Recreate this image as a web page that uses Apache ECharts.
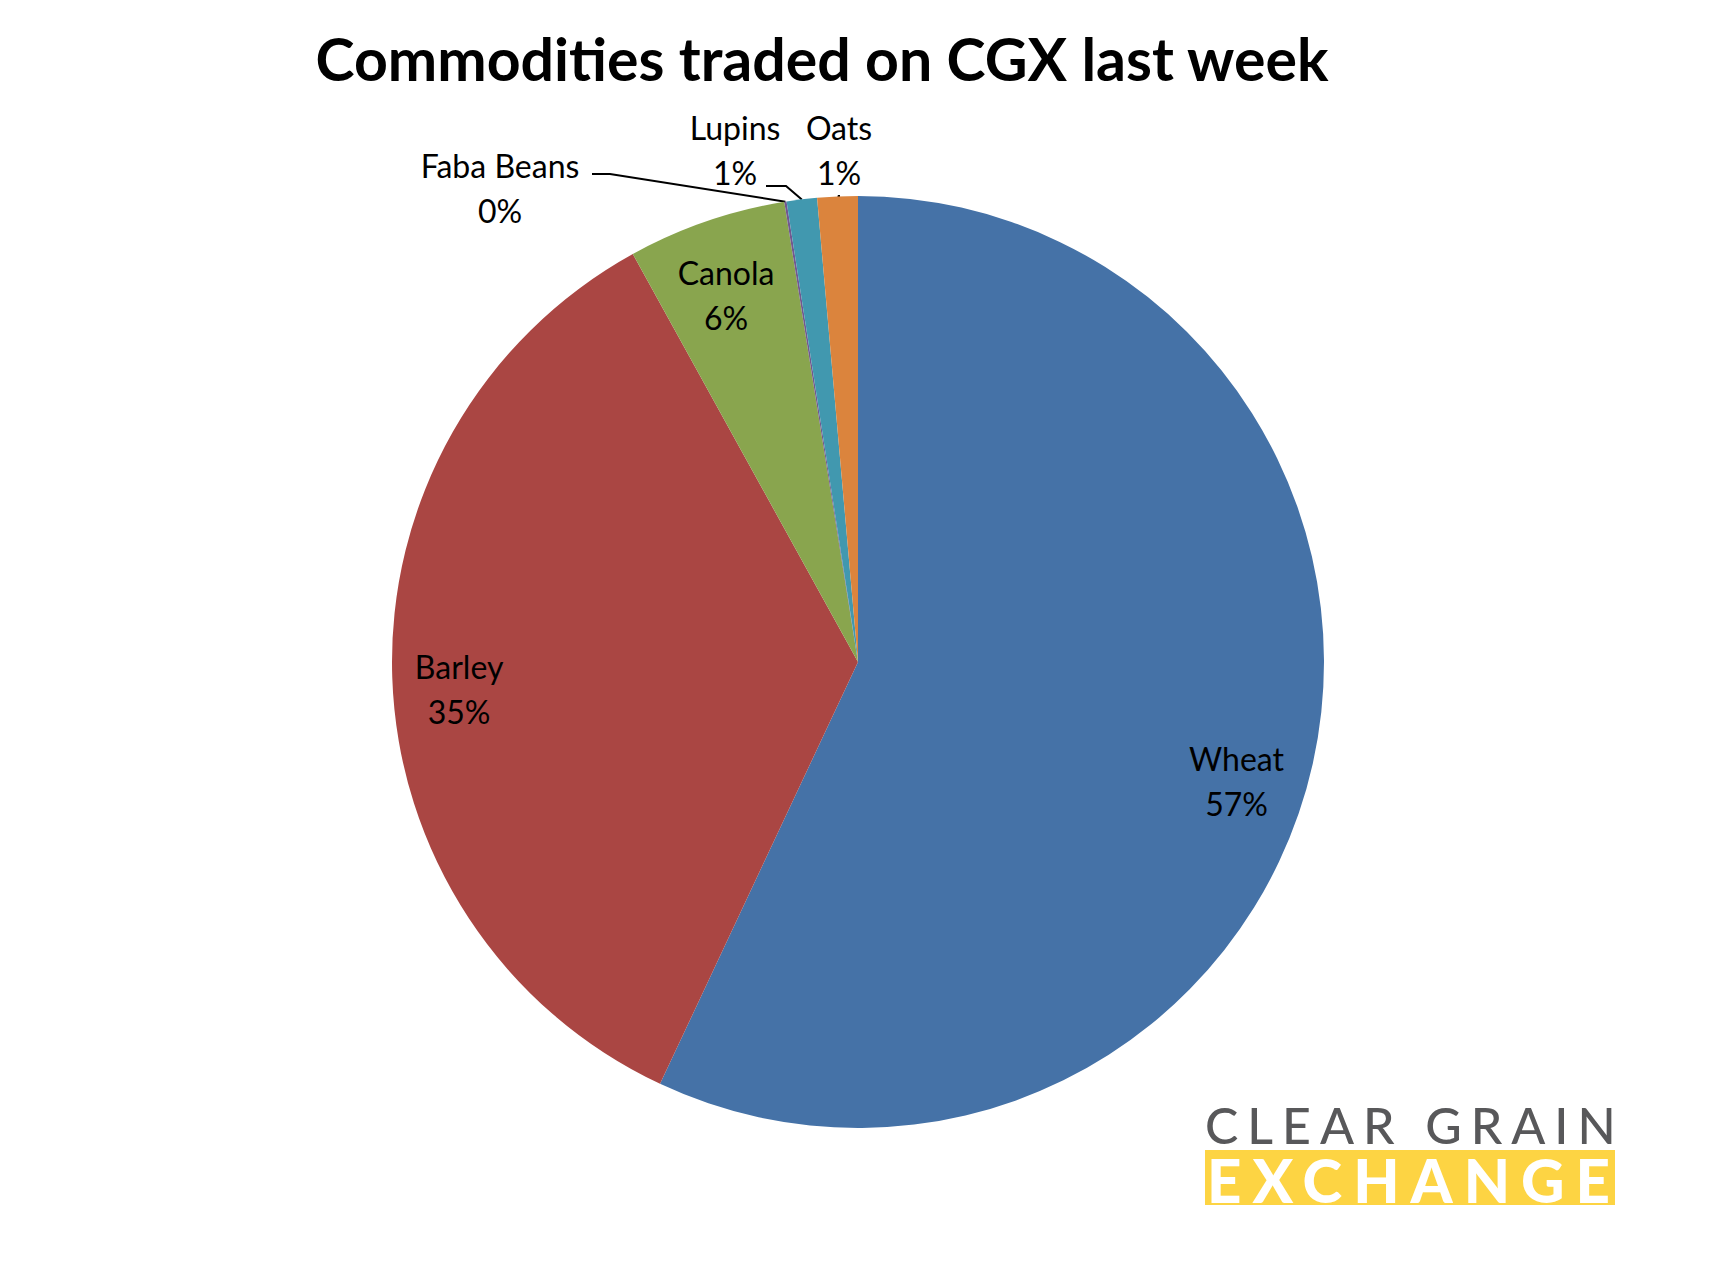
<!DOCTYPE html>
<html>
<head>
<meta charset="utf-8">
<script src="https://cdn.jsdelivr.net/npm/echarts@6/dist/echarts.min.js"></script>
<style>html,body{margin:0;padding:0;background:#fff}#c{width:1716px;height:1288px}</style>
</head>
<body>
<div id="c"></div>
<script>
// ---- data ----
const categories = ['Wheat', 'Barley', 'Canola', 'Faba Beans', 'Lupins', 'Oats'];
const values = [57.0, 35.0, 5.5, 0.08, 1.05, 1.4];
const colors = ['#4572A7', '#AA4643', '#89A54E', '#71588F', '#4198AF', '#DB843D'];
const insideLabel = [true, true, true, false, false, false];
const titleText = 'Commodities traded on CGX last week';

// ---- layout (not data) ----
const CX = 858, CY = 662, R = 466;
const outsideLabelPos = { 3: [500, 188], 4: [735, 150], 5: [839, 150] };
// leader-line start offset from label centre [dx, dy, elbow length]
const leaderGeom = { 3: [92, -14, 18], 4: [31, 36, 20] };
const insideLabelShift = { 0: [-11, 32], 1: [0, 14], 2: [-2, 10] };
const FONT = 'Lato, "Open Sans", sans-serif';

const chart = echarts.init(document.getElementById('c'), null, { renderer: 'svg' });

const mainData = categories.map((n, i) => ({
  name: n, value: values[i],
  itemStyle: { color: colors[i] },
  label: { show: !insideLabel[i] },
  labelLine: { show: !insideLabel[i] }
}));
const overlayData = categories.map((n, i) => ({
  name: n, value: values[i],
  itemStyle: { color: 'rgba(0,0,0,0)' },
  label: { show: insideLabel[i] }
}));

const labelStyle = {
  formatter: '{b}\n{d}%',
  fontFamily: FONT, fontSize: 32, lineHeight: 45, color: '#000', align: 'center'
};

chart.setOption({
  animation: false,
  backgroundColor: '#fff',
  title: {
    text: titleText, left: 822, top: 29, textAlign: 'center', padding: 0,
    textStyle: { fontFamily: FONT, fontWeight: 'bold', fontSize: 59, color: '#000' }
  },
  series: [
    {
      type: 'pie', center: [CX, CY], radius: R, startAngle: 90, clockwise: true,
      percentPrecision: 0, avoidLabelOverlap: false, minShowLabelAngle: 0,
      silent: true,
      data: mainData,
      label: Object.assign({ position: 'outside' }, labelStyle),
      labelLine: { length: 20, length2: 20, lineStyle: { color: '#000', width: 2 } },
      labelLayout: function (p) {
        const pos = outsideLabelPos[p.dataIndex];
        if (!pos) return {};
        const res = { x: pos[0], y: pos[1], align: 'center', verticalAlign: 'middle' };
        const g = leaderGeom[p.dataIndex];
        if (g && p.labelLinePoints) {
          const p0 = p.labelLinePoints[0];
          const sx = pos[0] + g[0], sy = pos[1] + g[1];
          res.labelLinePoints = [[p0[0], p0[1]], [sx + g[2], sy], [sx, sy]];
        }
        return res;
      }
    },
    {
      type: 'pie', center: [CX, CY], radius: [R * 0.7, R], startAngle: 90, clockwise: true,
      percentPrecision: 0, silent: true, avoidLabelOverlap: false, minShowLabelAngle: 0,
      data: overlayData,
      label: Object.assign({ position: 'inside' }, labelStyle),
      labelLine: { show: false },
      labelLayout: function (p) {
        const s = insideLabelShift[p.dataIndex];
        if (!s) return {};
        return { dx: s[0], dy: s[1] };
      }
    }
  ],
  graphic: [
    { type: 'text', left: 1205, top: 1100, style: { text: 'CLEAR GRAIN', fill: '#58585A', font: '500 50px ' + FONT, lineHeight: 40 } },
    { type: 'rect', shape: { x: 1205, y: 1150, width: 410, height: 55 }, style: { fill: '#FDD443' } },
    { type: 'text', left: 1207, top: 1150, style: { text: 'EXCHANGE', fill: '#fff', font: '900 60px ' + FONT, lineHeight: 46 } }
  ]
});

// widen letter spacing of the logo words
document.querySelectorAll('#c svg text').forEach(t => {
  if (t.textContent === 'CLEAR GRAIN') t.setAttribute('letter-spacing', '9');
  if (t.textContent === 'EXCHANGE') t.setAttribute('letter-spacing', '11');
});
</script>
</body>
</html>
